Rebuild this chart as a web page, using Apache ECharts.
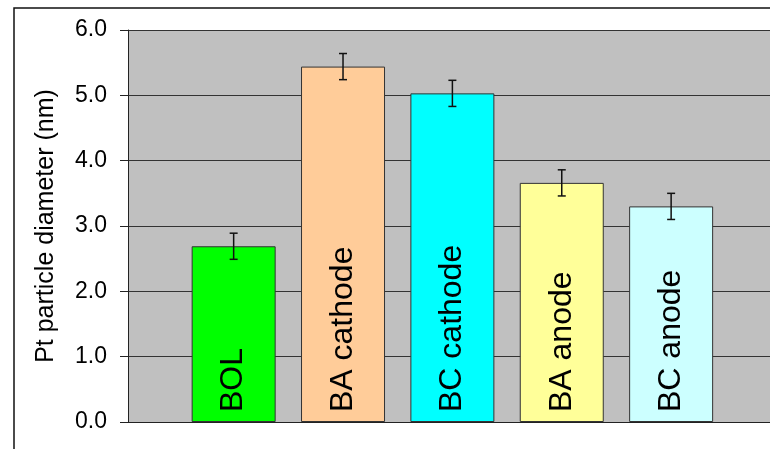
<!DOCTYPE html>
<html>
<head>
<meta charset="utf-8">
<script src="https://cdn.jsdelivr.net/npm/echarts@6/dist/echarts.min.js"></script>
<style>
  html, body { margin: 0; padding: 0; background: #fff; }
  #main { width: 770px; height: 449px; }
</style>
</head>
<body>
<div id="main"></div>
<script>
// data
var categories = ['BOL', 'BA cathode', 'BC cathode', 'BA anode', 'BC anode'];
var diameters = [2.69, 5.44, 5.03, 3.66, 3.30];
var errors = [0.20, 0.20, 0.20, 0.20, 0.20];
var yTicks = [0, 1, 2, 3, 4, 5, 6];

var barColors = ['#00FF00', '#FFCC99', '#00FFFF', '#FFFF99', '#CCFFFF'];
var font = 'Liberation Sans, Arial, sans-serif';

var barData = [];
var errData = [];
for (var i = 0; i < categories.length; i++) {
  barData.push({
    name: categories[i],
    value: [i, diameters[i]],
    itemStyle: {color: barColors[i]}
  });
  errData.push([i, diameters[i] - errors[i], diameters[i] + errors[i]]);
}

var myChart = echarts.init(document.getElementById('main'));

myChart.setOption({
  animation: false,
  grid: {
    left: 128,
    top: 30,
    bottom: 27,
    right: 0,
    show: true,
    backgroundColor: '#C0C0C0',
    borderWidth: 0
  },
  graphic: [{
    // outer chart frame
    type: 'polyline',
    shape: {points: [[14, 460], [14, 8], [780, 8]]},
    style: {stroke: '#111', lineWidth: 1.5, fill: null},
    silent: true
  }],
  xAxis: {
    type: 'value',
    min: -0.966,
    max: 4.904,
    axisLabel: {show: false},
    axisTick: {show: false},
    splitLine: {show: false},
    axisLine: {show: true, onZero: false, lineStyle: {color: '#222', width: 1}}
  },
  yAxis: {
    type: 'value',
    min: yTicks[0],
    max: yTicks[yTicks.length - 1],
    interval: 1,
    name: 'Pt particle diameter (nm)',
    nameLocation: 'middle',
    nameGap: 69,
    nameTextStyle: {fontSize: 25, color: '#000', fontFamily: font},
    axisLine: {show: true, onZero: false, lineStyle: {color: '#222', width: 1}},
    axisTick: {show: true, length: 8, lineStyle: {color: '#222'}},
    axisLabel: {
      fontSize: 23,
      color: '#000',
      fontFamily: font,
      margin: 21,
      formatter: function (v) {
        return v.toFixed(1);
      }
    },
    splitLine: {show: true, lineStyle: {color: '#333', width: 1}}
  },
  series: [{
    type: 'bar',
    barWidth: 84,
    data: barData,
    itemStyle: {borderColor: '#333', borderWidth: 1},
    label: {
      show: true,
      formatter: '{b}',
      position: 'insideBottom',
      rotate: 90,
      align: 'left',
      verticalAlign: 'middle',
      distance: 10,
      fontSize: 32,
      color: '#000',
      fontFamily: font
    },
    z: 2
  }, {
    // error bars
    type: 'custom',
    data: errData,
    z: 3,
    renderItem: function (params, api) {
      var x = api.value(0);
      var lo = api.coord([x, api.value(1)]);
      var hi = api.coord([x, api.value(2)]);
      var cap = 4;
      var st = {stroke: '#111', lineWidth: 1.5};
      return {
        type: 'group',
        children: [
          {type: 'line', shape: {x1: hi[0], y1: hi[1], x2: lo[0], y2: lo[1]}, style: st},
          {type: 'line', shape: {x1: hi[0] - cap, y1: hi[1], x2: hi[0] + cap, y2: hi[1]}, style: st},
          {type: 'line', shape: {x1: lo[0] - cap, y1: lo[1], x2: lo[0] + cap, y2: lo[1]}, style: st}
        ]
      };
    }
  }]
});
</script>
</body>
</html>
